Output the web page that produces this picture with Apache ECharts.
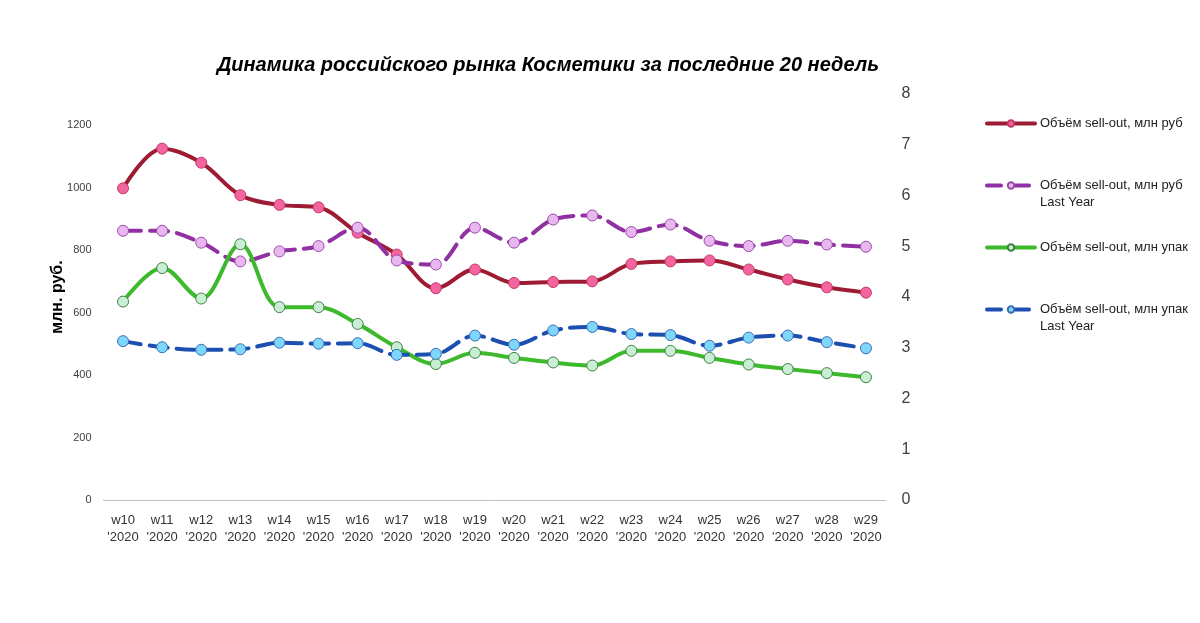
<!DOCTYPE html>
<html lang="ru">
<head>
<meta charset="utf-8">
<title>Динамика российского рынка Косметики</title>
<script src="https://cdn.jsdelivr.net/npm/echarts@6/dist/echarts.min.js"></script>
<style>
  html, body { margin: 0; padding: 0; background: #fff; }
  #chart { width: 1200px; height: 623px; }
</style>
</head>
<body>
<div id="chart"></div>
<script>
var weeks = ['w10', 'w11', 'w12', 'w13', 'w14', 'w15', 'w16', 'w17', 'w18', 'w19',
             'w20', 'w21', 'w22', 'w23', 'w24', 'w25', 'w26', 'w27', 'w28', 'w29'];
var year = "'2020";

// млн руб (левая ось)
var rubNow = [998, 1125, 1080, 976, 945, 937, 856, 786, 678, 738,
              695, 698, 700, 756, 764, 767, 738, 706, 681, 664];
var rubLY = [862, 862, 824, 764, 796, 813, 872, 767, 754, 872,
             824, 898, 911, 858, 882, 830, 813, 830, 818, 811];
// млн упак (правая ось)
var packNow = [3.91, 4.57, 3.97, 5.04, 3.80, 3.80, 3.47, 3.01, 2.68, 2.90,
               2.80, 2.71, 2.65, 2.94, 2.94, 2.80, 2.67, 2.58, 2.50, 2.42];
var packLY = [3.13, 3.01, 2.96, 2.97, 3.10, 3.08, 3.09, 2.86, 2.88, 3.24,
              3.06, 3.34, 3.41, 3.27, 3.25, 3.04, 3.20, 3.24, 3.11, 2.99];

var names = ['Объём sell-out, млн руб', 'Объём sell-out, млн руб Last Year',
             'Объём sell-out, млн упак', 'Объём sell-out, млн упак Last Year'];

var font = 'Liberation Sans';
var chart = echarts.init(document.getElementById('chart'));

function lineSeries(name, data, axis, color, dash, fill, border) {
    return {
        name: name,
        type: 'line',
        yAxisIndex: axis,
        data: data,
        smooth: 0.35,
        symbol: 'circle',
        symbolSize: 11,
        lineStyle: { color: color, width: 4, type: dash ? [18, 9] : 'solid', cap: 'round' },
        itemStyle: { color: fill, borderColor: border, borderWidth: 1 },
        emphasis: { disabled: true }
    };
}

function legendAt(name, top, dash) {
    return {
        data: [name],
        left: 985,
        top: top,
        orient: 'vertical',
        padding: 0,
        itemWidth: 48,
        itemHeight: 8,
        itemGap: 0,
        selectedMode: false,
        lineStyle: { width: 4, type: dash ? [14, 14] : 'solid', cap: 'round' },
        formatter: function (n) {
            if (n.indexOf(' Last Year') > 0) {
                return '\n' + n.replace(' Last Year', '') + '\nLast Year';
            }
            return n;
        },
        textStyle: { fontFamily: font, fontSize: 13, color: '#222', lineHeight: 17 }
    };
}

chart.setOption({
    animation: false,
    title: {
        text: 'Динамика российского рынка Косметики за последние 20 недель',
        left: 543,
        textAlign: 'center',
        top: 50,
        textStyle: { fontFamily: font, fontSize: 20, fontWeight: 'bold', fontStyle: 'italic', color: '#000' }
    },
    legend: [
        legendAt(names[0], 115, false),
        legendAt(names[1], 160, true),
        legendAt(names[2], 239, false),
        legendAt(names[3], 284, true)
    ],
    grid: { left: 103.5, right: 314.5, top: 94, bottom: 123 },
    xAxis: {
        type: 'category',
        data: weeks,
        boundaryGap: true,
        axisLine: { lineStyle: { color: '#BFBFBF', width: 1 } },
        axisTick: { show: false },
        axisLabel: {
            interval: 0,
            margin: 12,
            fontFamily: font,
            fontSize: 13,
            lineHeight: 17,
            color: '#333',
            formatter: function (v) { return v + '\n' + year; }
        }
    },
    yAxis: [{
        type: 'value',
        min: 0,
        max: 1300,
        interval: 200,
        name: 'млн. руб.',
        nameLocation: 'middle',
        nameGap: 38,
        nameMoveOverlap: false,
        nameTextStyle: { fontFamily: font, fontSize: 16, fontWeight: 'bold', color: '#000' },
        axisLine: { show: false },
        axisTick: { show: false },
        splitLine: { show: false },
        axisLabel: {
            showMaxLabel: false, margin: 12, fontFamily: font, fontSize: 11, color: '#404040',
            formatter: function (v) { return String(v); }
        }
    }, {
        type: 'value',
        min: 0,
        max: 8,
        interval: 1,
        position: 'right',
        axisLine: { show: false },
        axisTick: { show: false },
        splitLine: { show: false },
        axisLabel: { margin: 16, fontFamily: font, fontSize: 16, color: '#404040' }
    }],
    series: [
        lineSeries(names[0], rubNow, 0, '#9E1B34', false, '#F4649E', '#C23A66'),
        lineSeries(names[1], rubLY, 0, '#9130A3', true, '#E9B7F0', '#9A4AAA'),
        lineSeries(names[2], packNow, 1, '#3DBA2C', false, '#C8EFD3', '#3F7F45'),
        lineSeries(names[3], packLY, 1, '#1C4FAF', true, '#7ED7FB', '#3A6DB3')
    ]
});
</script>
</body>
</html>
